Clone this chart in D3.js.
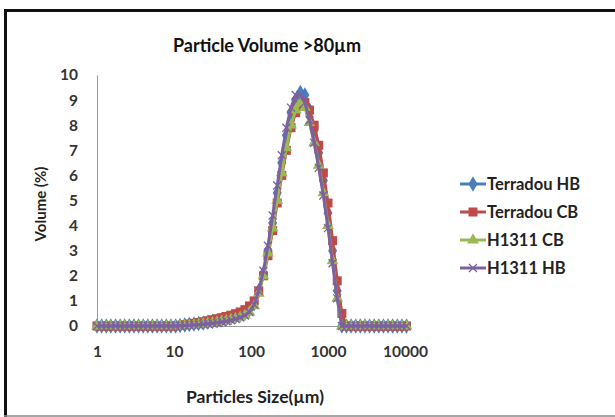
<!DOCTYPE html>
<html>
<head>
<meta charset="utf-8">
<script src="https://cdn.jsdelivr.net/npm/d3@7"></script>
<style>
  body { margin: 0; background: #fff; }
  text { font-family: Lato, "Open Sans", sans-serif; }
</style>
</head>
<body>
<div id="chart"></div>
<script>
const width = 615;
const height = 417;

// particle size bins (µm)
const sizes = [1.00, 1.15, 1.32, 1.51, 1.74, 2.00, 2.29, 2.63, 3.02, 3.47, 3.98, 4.57, 5.25, 6.03, 6.92, 7.94, 9.12, 10.5,
  12.0, 13.8, 15.8, 18.2, 20.9, 24.0, 27.5, 31.6, 36.3, 41.7, 47.9, 55.0, 63.1, 72.4, 83.2, 95.5,
  110, 126, 145, 166, 191, 219, 251, 288, 331, 380, 437, 501, 575, 661, 759, 871,
  1000, 1148, 1318, 1514, 1738, 1995, 2291, 2630, 3020, 3467, 3981, 4571, 5248, 6026, 6918, 7943, 9120, 10471];

// volume (%) per bin
const terradouHB = [0, 0, 0, 0, 0, 0, 0, 0, 0, 0, 0, 0, 0, 0, 0, 0, 0, 0,
  0.02, 0.04, 0.06, 0.08, 0.10, 0.12, 0.15, 0.18, 0.21, 0.25, 0.29, 0.33, 0.38, 0.44, 0.52, 0.65,
  0.9, 1.4, 2.1, 3.0, 4.1, 5.3, 6.5, 7.6, 8.5, 9.0, 9.3, 9.2, 8.6, 7.8, 6.9, 5.8,
  4.5, 3.0, 1.4, 0, 0, 0, 0, 0, 0, 0, 0, 0, 0, 0, 0, 0, 0, 0];
const terradouCB = [0, 0, 0, 0, 0, 0, 0, 0, 0, 0, 0, 0, 0, 0, 0, 0, 0, 0,
  0.03, 0.05, 0.08, 0.11, 0.14, 0.17, 0.21, 0.25, 0.29, 0.33, 0.38, 0.43, 0.49, 0.56, 0.65, 0.8,
  1.0, 1.4, 2.0, 2.8, 3.8, 4.9, 6.0, 7.0, 7.9, 8.5, 8.8, 8.9, 8.6, 8.0, 7.2, 6.1,
  4.9, 3.4, 1.8, 0.5, 0, 0, 0, 0, 0, 0, 0, 0, 0, 0, 0, 0, 0, 0];
const h1311CB = [0, 0, 0, 0, 0, 0, 0, 0, 0, 0, 0, 0, 0, 0, 0, 0, 0, 0,
  0.01, 0.02, 0.03, 0.05, 0.07, 0.09, 0.11, 0.13, 0.16, 0.19, 0.22, 0.26, 0.30, 0.35, 0.42, 0.55,
  0.8, 1.3, 2.0, 2.9, 3.9, 5.0, 6.1, 7.1, 8.0, 8.6, 8.9, 8.7, 8.1, 7.3, 6.4, 5.3,
  4.0, 2.6, 1.1, 0, 0, 0, 0, 0, 0, 0, 0, 0, 0, 0, 0, 0, 0, 0];
const h1311HB = [0, 0, 0, 0, 0, 0, 0, 0, 0, 0, 0, 0, 0, 0, 0, 0, 0, 0,
  0.01, 0.02, 0.03, 0.04, 0.05, 0.07, 0.09, 0.11, 0.13, 0.16, 0.19, 0.23, 0.28, 0.34, 0.42, 0.56,
  0.85, 1.4, 2.2, 3.2, 4.4, 5.6, 6.8, 7.9, 8.7, 9.2, 9.2, 8.9, 8.2, 7.3, 6.3, 5.2,
  3.9, 2.5, 1.1, 0, 0, 0, 0, 0, 0, 0, 0, 0, 0, 0, 0, 0, 0, 0];

const seriesNames = ["Terradou HB", "Terradou CB", "H1311 CB", "H1311 HB"];
const xTicks = [1, 10, 100, 1000, 10000];
const yTicks = [0, 1, 2, 3, 4, 5, 6, 7, 8, 9, 10];

const series = [
  {name: seriesNames[0], values: terradouHB, color: "#4a7ebb", marker: "diamond"},
  {name: seriesNames[1], values: terradouCB, color: "#be4b48", marker: "square"},
  {name: seriesNames[2], values: h1311CB, color: "#98b954", marker: "triangle"},
  {name: seriesNames[3], values: h1311HB, color: "#7d60a0", marker: "x"}
];

const svg = d3.select("#chart")
    .append("svg")
    .attr("width", width)
    .attr("height", height);

// chart frame
svg.append("line").attr("x1", 4).attr("x2", width).attr("y1", 10.5).attr("y2", 10.5)
    .attr("stroke", "#111").attr("stroke-width", 3);
svg.append("line").attr("x1", 5.5).attr("x2", 5.5).attr("y1", 9).attr("y2", height)
    .attr("stroke", "#111").attr("stroke-width", 3);
svg.append("line").attr("x1", 4).attr("x2", width).attr("y1", 416).attr("y2", 416)
    .attr("stroke", "#888").attr("stroke-width", 1.5);

const x = d3.scaleLog().domain([1, 10000]).range([97, 405]);
const y = d3.scaleLinear().domain([0, 10]).range([326, 75]);

// axes
const yAxis = svg.append("g")
    .attr("transform", "translate(97,0)")
    .call(d3.axisLeft(y).tickValues(yTicks).tickSize(0).tickPadding(19));
const xAxis = svg.append("g")
    .attr("transform", "translate(0,326)")
    .call(d3.axisBottom(x).tickValues(xTicks).tickFormat(d3.format("d")).tickSize(0).tickPadding(20));

[yAxis, xAxis].forEach(g => {
    g.select(".domain").attr("stroke", "#999").attr("stroke-width", 1);
    g.selectAll("text")
        .style("font-family", "Lato, sans-serif")
        .attr("font-size", "15.5px")
        .attr("font-weight", "bold")
        .attr("fill", "#333");
});

// markers
function drawMarker(sel, type, color) {
    if (type === "x") {
        sel.append("path")
            .attr("d", "M-4,-4L4,4M-4,4L4,-4")
            .attr("stroke", color)
            .attr("stroke-width", 1.3)
            .attr("fill", "none");
    } else {
        const sym = {diamond: d3.symbolDiamond, square: d3.symbolSquare, triangle: d3.symbolTriangle}[type];
        const size = {diamond: 70, square: 81, triangle: 60}[type];
        sel.append("path")
            .attr("d", d3.symbol().type(sym).size(size)())
            .attr("fill", color);
    }
}

const line = d3.line()
    .x((d, i) => x(sizes[i]))
    .y(d => y(d));

series.forEach(s => {
    const g = svg.append("g");
    g.append("path")
        .datum(s.values)
        .attr("d", line)
        .attr("fill", "none")
        .attr("stroke", s.color)
        .attr("stroke-width", 3)
        .attr("stroke-linejoin", "round");
    g.selectAll("g.pt")
        .data(s.values)
        .enter().append("g")
        .attr("class", "pt")
        .attr("transform", (d, i) => `translate(${x(sizes[i])},${y(d)})`)
        .each(function () { drawMarker(d3.select(this), s.marker, s.color); });
});

// title and axis titles
svg.append("text")
    .attr("x", 267).attr("y", 52)
    .attr("text-anchor", "middle")
    .attr("font-size", "18px")
    .attr("font-weight", "bold")
    .attr("fill", "#111")
    .text("Particle Volume >80µm");

svg.append("text")
    .attr("x", 255).attr("y", 403)
    .attr("text-anchor", "middle")
    .attr("font-size", "17.5px")
    .attr("font-weight", "bold")
    .attr("fill", "#222")
    .text("Particles Size(µm)");

svg.append("text")
    .attr("transform", "translate(46,204) rotate(-90)")
    .attr("text-anchor", "middle")
    .attr("font-size", "15px")
    .attr("font-weight", "bold")
    .attr("fill", "#222")
    .text("Volume (%)");

// legend
const legend = svg.append("g");
series.forEach((s, i) => {
    const ly = 184 + i * 28;
    const lg = legend.append("g").attr("transform", `translate(460,${ly})`);
    lg.append("line")
        .attr("x1", 0).attr("x2", 26)
        .attr("stroke", s.color).attr("stroke-width", 3);
    const m = lg.append("g").attr("transform", "translate(13,0)");
    drawMarker(m, s.marker, s.color);
    lg.append("text")
        .attr("x", 27).attr("y", 6)
        .attr("font-size", "16.5px")
        .attr("font-weight", "bold")
        .attr("fill", "#222")
        .text(s.name);
});
</script>
</body>
</html>
